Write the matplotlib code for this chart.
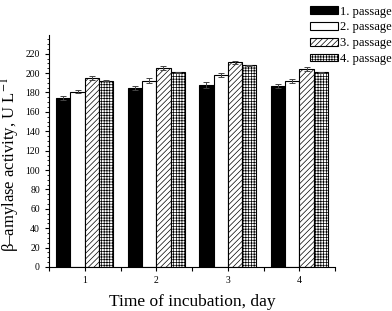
import matplotlib
matplotlib.use("Agg")
import matplotlib.pyplot as plt
from matplotlib.ticker import MultipleLocator
import numpy as np

plt.rcParams['font.family'] = ['Liberation Serif', 'DejaVu Serif']
plt.rcParams['mathtext.fontset'] = 'stix'
plt.rcParams['hatch.linewidth'] = 0.5

days = [1, 2, 3, 4]
labels = ['1. passage', '2. passage', '3. passage', '4. passage']
p1 = [174, 185, 188, 187]
p2 = [181, 192, 198, 192]
p3 = [195, 205, 211, 204]
p4 = [192, 201, 208, 201]
e1 = [2, 2, 3, 2]
e2 = [2, 2.5, 2.5, 2]
e3 = [2, 2, 1.5, 2]
e4 = [0.5, 0.5, 0.5, 0.5]

series = [p1, p2, p3, p4]
errors = [e1, e2, e3, e4]
faces = ['black', 'white', 'white', 'white']
hatches = [None, None, '//////', '++++++']

fig = plt.figure(figsize=(3.92, 3.11), dpi=100)
ax = fig.add_axes([0.125, 0.1415, 0.73, 0.745])

x = np.array(days, dtype=float)
w = 0.2
for i, (vals, err) in enumerate(zip(series, errors)):
    ax.bar(x + (i - 1.5) * w, vals, w, color=faces[i], edgecolor='black',
           linewidth=0.8, hatch=hatches[i], label=labels[i],
           yerr=err, error_kw=dict(ecolor='#444444', elinewidth=0.7,
                                   capsize=2.5, capthick=0.7))

ax.set_xlim(0.5, 4.5)
ax.set_ylim(0, 239)
ax.set_xticks(days)
ax.xaxis.set_minor_locator(MultipleLocator(0.5))
ax.yaxis.set_minor_locator(MultipleLocator(5))
ax.set_yticks(range(0, 221, 20))
ax.tick_params(axis='both', labelsize=7, length=3, width=0.8, direction='out')
ax.tick_params(axis='y', which='minor', length=1.5, width=0.6)
ax.tick_params(axis='x', which='minor', length=3, width=0.8)
ax.spines['top'].set_visible(False)
ax.spines['right'].set_visible(False)

ax.set_xlabel('Time of incubation, day', fontsize=12.5)
ax.xaxis.set_label_coords(0.5, -0.115)
ax.set_ylabel('β–amylase activity, U L$^{-1}$', fontsize=12)
ax.yaxis.set_label_coords(-0.094, 0.44)

fig.legend(loc='upper right', bbox_to_anchor=(1.022, 1.01), frameon=False,
           fontsize=9, handlelength=2.2, handleheight=0.6,
           labelspacing=0.3, handletextpad=0.2, borderpad=0.2)

fig.savefig('out.png', dpi=100)
